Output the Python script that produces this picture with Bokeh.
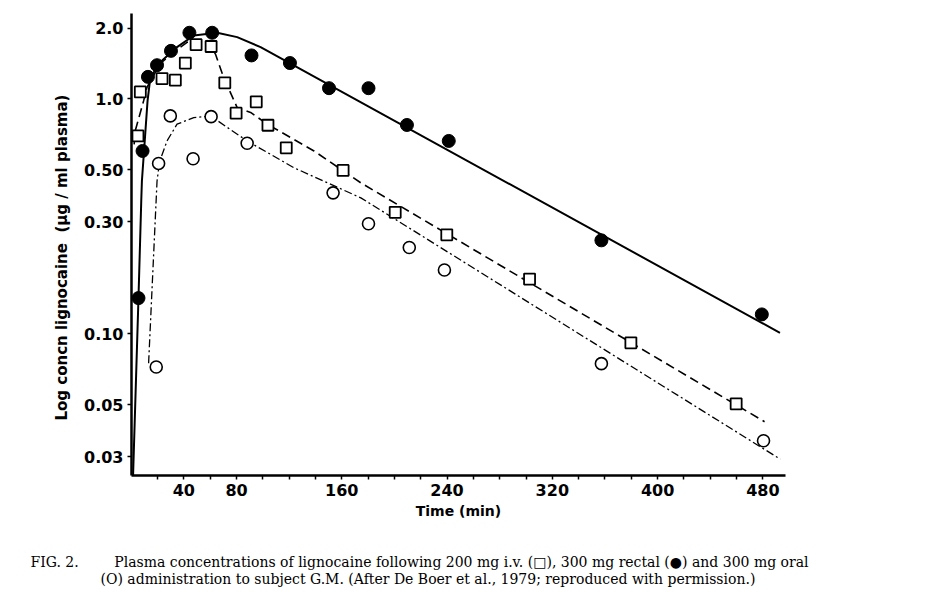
from bokeh.plotting import figure
from bokeh.models import Range1d, FixedTicker, Label
from bokeh.layouts import column
from bokeh.embed import file_html
from bokeh.resources import INLINE

# ---- data (time in min, concentration in ug/ml) ----
# 300 mg rectal (filled circles, solid line)
rectal_t = [5.5, 8.6, 12.7, 19.6, 30.2, 44.2, 61.5, 91.4, 120.6, 150.3, 180.3, 209.5, 241.3, 357.3, 479.2]
rectal_c = [0.142, 0.60, 1.24, 1.39, 1.60, 1.91, 1.91, 1.53, 1.42, 1.11, 1.11, 0.774, 0.662, 0.250, 0.121]
rectal_fit_t = [1.4, 5.5, 7.6, 8.1, 12.4, 14.5, 22.0, 34.8, 47.5, 65.3, 80.5, 98.3, 493.0]
rectal_fit_c = [0.025, 0.142, 0.366, 0.446, 0.98, 1.23, 1.43, 1.66, 1.86, 1.91, 1.83, 1.66, 0.101]

# 200 mg i.v. (open squares, dashed line)
iv_t = [5.1, 6.9, 23.4, 33.5, 41.1, 49.3, 60.7, 71.1, 79.7, 95.0, 103.9, 117.8, 161.0, 200.6, 239.8, 302.7, 379.7, 459.7]
iv_c = [0.695, 1.07, 1.22, 1.20, 1.42, 1.70, 1.67, 1.17, 0.869, 0.971, 0.772, 0.619, 0.496, 0.329, 0.264, 0.171, 0.0916, 0.0504]
iv_fit_t = [2.2, 3.0, 9.4, 12.0, 22.0, 32.3, 42.4, 52.0, 57.6, 64.0, 70.3, 80.5, 90.7, 103.4, 138.9, 174.5, 481.3]
iv_fit_c = [0.64, 0.73, 0.98, 1.12, 1.41, 1.58, 1.74, 1.78, 1.77, 1.55, 1.23, 0.918, 0.875, 0.78, 0.60, 0.439, 0.0423]

# 300 mg oral (open circles, dash-dot line)
oral_t = [19.0, 20.8, 29.7, 47.0, 60.7, 88.1, 153.4, 180.3, 211.3, 238.0, 357.3, 480.5]
oral_c = [0.0723, 0.531, 0.846, 0.556, 0.84, 0.647, 0.398, 0.294, 0.233, 0.187, 0.0747, 0.0351]
oral_fit_t = [13.2, 19.6, 21.5, 27.2, 34.8, 47.5, 60.2, 88.1, 123.7, 174.5, 493.2]
oral_fit_c = [0.075, 0.446, 0.54, 0.662, 0.78, 0.832, 0.846, 0.662, 0.509, 0.379, 0.0293]

# axes
x_ticks = [20, 40, 60, 80, 100, 120, 140, 160, 180, 200, 220, 240, 260, 280, 300,
           320, 340, 360, 380, 400, 420, 440, 460, 480]
x_labeled = [40, 80, 160, 240, 320, 400, 480]
y_ticks = [0.03, 0.05, 0.1, 0.3, 0.5, 1.0, 2.0]
y_labels = ["0.03", "0.05", "0.10", "0.30", "0.50", "1.0", "2.0"]

NB = "\u00a0"
caption1 = ("FIG. 2." + NB * 8 + "Plasma concentrations of lignocaine following 200 mg i.v. (\u25a1), "
            "300 mg rectal (\u25cf) and 300 mg oral")
caption2 = "(O) administration to subject G.M. (After De Boer et al., 1979; reproduced with permission.)"

p = figure(width=911, height=530, output_backend="svg", toolbar_location=None,
           y_axis_type="log",
           x_range=Range1d(0.2, 497.2), y_range=Range1d(0.02497, 2.307),
           min_border_left=131, min_border_right=126, min_border_top=13,
           min_border_bottom=55)
p.frame_align = False
p.outline_line_color = None
p.grid.visible = False
p.background_fill_color = "white"
p.border_fill_color = "white"

# fitted curves
p.line(rectal_fit_t, rectal_fit_c, line_color="black", line_width=2.0)
p.line(iv_fit_t, iv_fit_c, line_color="black", line_width=1.6, line_dash="9 5")
p.line(oral_fit_t, oral_fit_c, line_color="black", line_width=1.3, line_dash="8 3 2 3")

# markers
p.scatter(rectal_t, rectal_c, marker="circle", size=13, fill_color="black", line_color="black")
p.scatter(iv_t, iv_c, marker="square", size=11, fill_color="white", line_color="black", line_width=1.8)
p.scatter(oral_t, oral_c, marker="circle", size=12, fill_color="white", line_color="black", line_width=1.6)

# x axis
xa = p.xaxis[0]
xa.ticker = FixedTicker(ticks=x_ticks, minor_ticks=[])
xa.major_label_overrides = {t: (str(t) if t in x_labeled else "") for t in x_ticks}
xa.axis_label = "Time (min)"
xa.axis_line_width = 2.5
xa.axis_line_color = "black"
xa.major_tick_in = 0
xa.major_tick_out = 4
xa.major_tick_line_width = 1.5
xa.major_tick_line_color = "black"
xa.major_label_text_font = "DejaVu Sans"
xa.major_label_text_font_style = "bold"
xa.major_label_text_font_size = "16px"
xa.major_label_text_color = "black"
xa.major_label_standoff = 4
xa.axis_label_text_font = "DejaVu Sans"
xa.axis_label_text_font_style = "bold"
xa.axis_label_text_font_size = "14px"
xa.axis_label_text_color = "black"
xa.axis_label_standoff = 4

# y axis
ya = p.yaxis[0]
ya.ticker = FixedTicker(ticks=y_ticks, minor_ticks=[])
ya.major_label_overrides = dict(zip(y_ticks, y_labels))
ya.axis_label = "Log concn lignocaine" + NB * 2 + "(\u00b5g / ml plasma)" + NB * 5
ya.axis_line_width = 2.5
ya.axis_line_color = "black"
ya.major_tick_in = 0
ya.major_tick_out = 4
ya.major_tick_line_width = 1.5
ya.major_tick_line_color = "black"
ya.major_label_text_font = "DejaVu Sans"
ya.major_label_text_font_style = "bold"
ya.major_label_text_font_size = "16px"
ya.major_label_text_color = "black"
ya.major_label_standoff = 4
ya.axis_label_text_font = "DejaVu Sans"
ya.axis_label_text_font_style = "bold"
ya.axis_label_text_font_size = "15px"
ya.axis_label_text_color = "black"
ya.axis_label_standoff = 10

# caption panel below the chart
cap = figure(width=911, height=58, output_backend="svg", toolbar_location=None,
             x_range=Range1d(0, 911), y_range=Range1d(58, 0),
             x_axis_location=None, y_axis_location=None, min_border=0)
cap.frame_align = False
cap.outline_line_color = None
cap.grid.visible = False
for txt, cx, cy in [(caption1, 30, 31), (caption2, 100, 48)]:
    cap.add_layout(Label(x=cx, y=cy, text=txt, text_font="DejaVu Serif", text_font_size="14px",
                         text_color="black", text_baseline="middle", text_align="left"))

open("out.html", "w").write(file_html(column(p, cap, spacing=0), INLINE))
